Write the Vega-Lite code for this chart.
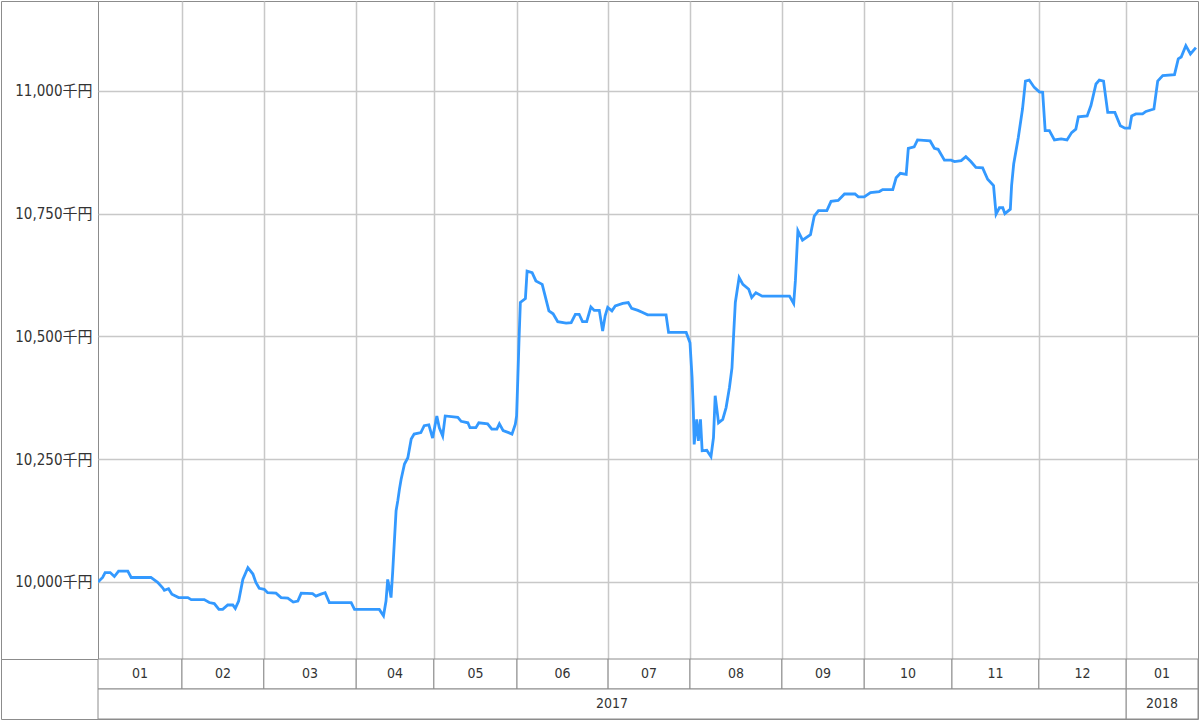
{
  "$schema": "https://vega.github.io/schema/vega-lite/v6.json",
  "padding": 0,
  "background": "white",
  "bounds": "flush",
  "spacing": 0,
  "columns": 2,
  "config": {
    "view": {"stroke": "#8c8c8c", "strokeWidth": 1},
    "concat": {"spacing": 0},
    "font": "Liberation Sans Narrow, DejaVu Sans Condensed, Noto Sans CJK JP, sans-serif"
  },
  "datasets": {
    "nav": [
      {"day": 0, "value": 10000}, {"day": 1.1, "value": 10009}, {"day": 1.7, "value": 10019}, {"day": 2.9, "value": 10019},
      {"day": 3.9, "value": 10011}, {"day": 4.9, "value": 10022}, {"day": 7.1, "value": 10022}, {"day": 7.9, "value": 10009},
      {"day": 12.6, "value": 10009}, {"day": 14.2, "value": 9999}, {"day": 15.4, "value": 9988}, {"day": 15.8, "value": 9983},
      {"day": 16.8, "value": 9986}, {"day": 17.6, "value": 9975}, {"day": 19.2, "value": 9968}, {"day": 21.4, "value": 9968},
      {"day": 22.2, "value": 9964}, {"day": 25.3, "value": 9964}, {"day": 26.5, "value": 9958}, {"day": 27.7, "value": 9956},
      {"day": 28.8, "value": 9944}, {"day": 29.7, "value": 9944}, {"day": 30.9, "value": 9953}, {"day": 32.1, "value": 9953},
      {"day": 32.7, "value": 9946}, {"day": 33.5, "value": 9961}, {"day": 34.5, "value": 10005}, {"day": 35.7, "value": 10029},
      {"day": 36.9, "value": 10016}, {"day": 37.6, "value": 9999}, {"day": 38.4, "value": 9987}, {"day": 39.6, "value": 9985},
      {"day": 40.4, "value": 9978}, {"day": 42.4, "value": 9977}, {"day": 43.6, "value": 9968}, {"day": 45.2, "value": 9967},
      {"day": 46.5, "value": 9959}, {"day": 47.6, "value": 9961}, {"day": 48.4, "value": 9977}, {"day": 51.1, "value": 9976},
      {"day": 51.9, "value": 9971}, {"day": 53.1, "value": 9975}, {"day": 54.1, "value": 9978}, {"day": 55.1, "value": 9958},
      {"day": 60.3, "value": 9958}, {"day": 61.1, "value": 9944}, {"day": 67.0, "value": 9944}, {"day": 68.0, "value": 9931},
      {"day": 68.6, "value": 9961}, {"day": 69.0, "value": 10005}, {"day": 69.4, "value": 9988}, {"day": 69.8, "value": 9968},
      {"day": 70.2, "value": 10022}, {"day": 70.6, "value": 10084}, {"day": 71.0, "value": 10145}, {"day": 71.4, "value": 10165},
      {"day": 71.8, "value": 10189}, {"day": 72.2, "value": 10209}, {"day": 73.0, "value": 10240}, {"day": 73.8, "value": 10253},
      {"day": 74.6, "value": 10291}, {"day": 75.3, "value": 10301}, {"day": 76.9, "value": 10304}, {"day": 77.7, "value": 10318},
      {"day": 78.8, "value": 10320}, {"day": 79.7, "value": 10293}, {"day": 80.7, "value": 10338}, {"day": 81.3, "value": 10314},
      {"day": 82.1, "value": 10297}, {"day": 82.7, "value": 10338}, {"day": 85.7, "value": 10335}, {"day": 86.5, "value": 10327},
      {"day": 88.1, "value": 10324}, {"day": 88.6, "value": 10314}, {"day": 90.0, "value": 10314}, {"day": 90.7, "value": 10324},
      {"day": 92.8, "value": 10322}, {"day": 93.8, "value": 10311}, {"day": 95.0, "value": 10311}, {"day": 95.6, "value": 10322},
      {"day": 96.5, "value": 10308}, {"day": 97.8, "value": 10304}, {"day": 98.6, "value": 10301}, {"day": 99.4, "value": 10321},
      {"day": 99.7, "value": 10338}, {"day": 100.0, "value": 10416}, {"day": 100.3, "value": 10498}, {"day": 100.6, "value": 10569},
      {"day": 101.8, "value": 10577}, {"day": 102.2, "value": 10633}, {"day": 103.4, "value": 10630}, {"day": 104.3, "value": 10613},
      {"day": 105.8, "value": 10606}, {"day": 106.3, "value": 10589}, {"day": 107.4, "value": 10552}, {"day": 108.4, "value": 10546},
      {"day": 109.5, "value": 10530}, {"day": 111.5, "value": 10527}, {"day": 112.7, "value": 10528}, {"day": 113.7, "value": 10545},
      {"day": 114.6, "value": 10545}, {"day": 115.4, "value": 10530}, {"day": 116.4, "value": 10530}, {"day": 117.4, "value": 10560},
      {"day": 118.2, "value": 10553}, {"day": 119.4, "value": 10553}, {"day": 120.2, "value": 10511}, {"day": 120.8, "value": 10542},
      {"day": 121.4, "value": 10559}, {"day": 122.4, "value": 10552}, {"day": 123.2, "value": 10562}, {"day": 125.0, "value": 10567},
      {"day": 126.3, "value": 10569}, {"day": 127.1, "value": 10557}, {"day": 128.6, "value": 10553}, {"day": 129.6, "value": 10549},
      {"day": 130.9, "value": 10544}, {"day": 135.3, "value": 10544}, {"day": 135.9, "value": 10508}, {"day": 140.1, "value": 10508},
      {"day": 141.0, "value": 10487}, {"day": 141.5, "value": 10416}, {"day": 141.8, "value": 10348}, {"day": 142.0, "value": 10280},
      {"day": 142.6, "value": 10331}, {"day": 143.0, "value": 10287}, {"day": 143.5, "value": 10331}, {"day": 143.9, "value": 10267},
      {"day": 145.0, "value": 10268}, {"day": 146.0, "value": 10255}, {"day": 146.6, "value": 10294}, {"day": 147.0, "value": 10379},
      {"day": 147.4, "value": 10352}, {"day": 147.8, "value": 10324}, {"day": 148.8, "value": 10331}, {"day": 149.6, "value": 10355},
      {"day": 150.4, "value": 10396}, {"day": 151.0, "value": 10436}, {"day": 151.4, "value": 10504}, {"day": 151.8, "value": 10569},
      {"day": 152.7, "value": 10620}, {"day": 153.6, "value": 10606}, {"day": 155.0, "value": 10596}, {"day": 155.7, "value": 10579},
      {"day": 156.7, "value": 10589}, {"day": 158.2, "value": 10582}, {"day": 164.7, "value": 10582}, {"day": 165.7, "value": 10567},
      {"day": 166.1, "value": 10613}, {"day": 166.4, "value": 10664}, {"day": 166.7, "value": 10715}, {"day": 167.8, "value": 10696},
      {"day": 169.7, "value": 10707}, {"day": 170.6, "value": 10745}, {"day": 171.6, "value": 10756}, {"day": 173.6, "value": 10756},
      {"day": 174.6, "value": 10775}, {"day": 176.3, "value": 10777}, {"day": 177.8, "value": 10790}, {"day": 180.3, "value": 10790},
      {"day": 181.1, "value": 10784}, {"day": 182.5, "value": 10784}, {"day": 184.0, "value": 10793}, {"day": 186.1, "value": 10795},
      {"day": 186.9, "value": 10799}, {"day": 189.3, "value": 10799}, {"day": 190.1, "value": 10823}, {"day": 191.1, "value": 10832},
      {"day": 192.5, "value": 10830}, {"day": 193.0, "value": 10883}, {"day": 194.4, "value": 10886}, {"day": 195.2, "value": 10900},
      {"day": 198.2, "value": 10898}, {"day": 199.2, "value": 10883}, {"day": 200.1, "value": 10881}, {"day": 201.6, "value": 10859},
      {"day": 203.2, "value": 10859}, {"day": 204.0, "value": 10856}, {"day": 205.6, "value": 10858}, {"day": 206.7, "value": 10866},
      {"day": 207.9, "value": 10856}, {"day": 209.1, "value": 10844}, {"day": 210.7, "value": 10843}, {"day": 211.9, "value": 10820},
      {"day": 213.3, "value": 10807}, {"day": 213.9, "value": 10749}, {"day": 214.7, "value": 10762}, {"day": 215.5, "value": 10762},
      {"day": 216.0, "value": 10750}, {"day": 217.3, "value": 10759}, {"day": 217.6, "value": 10807}, {"day": 218.1, "value": 10851},
      {"day": 219.2, "value": 10905}, {"day": 220.2, "value": 10963}, {"day": 220.9, "value": 11020}, {"day": 221.8, "value": 11022},
      {"day": 223.0, "value": 11007}, {"day": 224.2, "value": 10998}, {"day": 225.0, "value": 10997}, {"day": 225.6, "value": 10919},
      {"day": 226.6, "value": 10919}, {"day": 227.8, "value": 10900}, {"day": 229.4, "value": 10902}, {"day": 230.8, "value": 10900},
      {"day": 231.9, "value": 10915}, {"day": 232.9, "value": 10922}, {"day": 233.5, "value": 10947}, {"day": 235.6, "value": 10949},
      {"day": 236.5, "value": 10970}, {"day": 237.7, "value": 11014}, {"day": 238.5, "value": 11022}, {"day": 239.5, "value": 11020},
      {"day": 240.5, "value": 10956}, {"day": 242.2, "value": 10956}, {"day": 243.5, "value": 10929}, {"day": 244.6, "value": 10924},
      {"day": 245.7, "value": 10924}, {"day": 246.2, "value": 10949}, {"day": 247.2, "value": 10953}, {"day": 248.8, "value": 10953},
      {"day": 249.6, "value": 10958}, {"day": 251.5, "value": 10963}, {"day": 252.4, "value": 11020}, {"day": 253.6, "value": 11031},
      {"day": 256.4, "value": 11033}, {"day": 257.3, "value": 11065}, {"day": 258.0, "value": 11069}, {"day": 259.1, "value": 11092},
      {"day": 260.2, "value": 11075}, {"day": 261.5, "value": 11088}
    ],
    "periods": [
      {"level": "month", "label": "01", "start": 0, "end": 20},
      {"level": "month", "label": "02", "start": 20, "end": 39.5},
      {"level": "month", "label": "03", "start": 39.5, "end": 61.5},
      {"level": "month", "label": "04", "start": 61.5, "end": 80},
      {"level": "month", "label": "05", "start": 80, "end": 99.8},
      {"level": "month", "label": "06", "start": 99.8, "end": 121.5},
      {"level": "month", "label": "07", "start": 121.5, "end": 141},
      {"level": "month", "label": "08", "start": 141, "end": 162.9},
      {"level": "month", "label": "09", "start": 162.9, "end": 182.5},
      {"level": "month", "label": "10", "start": 182.5, "end": 203.4},
      {"level": "month", "label": "11", "start": 203.4, "end": 224.1},
      {"level": "month", "label": "12", "start": 224.1, "end": 244.9},
      {"level": "month", "label": "01", "start": 244.9, "end": 262},
      {"level": "year", "label": "2017", "start": 0, "end": 244.9},
      {"level": "year", "label": "2018", "start": 244.9, "end": 262}
    ]
  },
  "concat": [
    {
      "width": 97, "height": 658,
      "data": {"values": [{}]},
      "mark": {"type": "point", "opacity": 0},
      "view": {"stroke": "#8c8c8c"}
    },
    {
      "width": 1100, "height": 658,
      "data": {"name": "nav"},
      "view": {"stroke": "#8c8c8c"},
      "mark": {"type": "line", "color": "#3399ff", "strokeWidth": 2.8, "clip": true},
      "encoding": {
        "x": {
          "field": "day", "type": "quantitative",
          "scale": {"domain": [0, 262], "nice": false, "zero": false},
          "axis": {
            "title": null, "values": [20, 39.5, 61.5, 80, 99.8, 121.5, 141, 162.9, 182.5, 203.4, 224.1, 244.9],
            "labels": false, "ticks": false, "domain": false,
            "grid": true, "gridColor": "#c8c8c8", "gridWidth": 1.5, "gridOpacity": 1
          }
        },
        "y": {
          "field": "value", "type": "quantitative",
          "scale": {"domain": [9843, 11183], "nice": false, "zero": false},
          "axis": {
            "title": null, "values": [10000, 10250, 10500, 10750, 11000],
            "format": ",.0f", "labelExpr": "datum.label + '千円'",
            "ticks": false, "domain": false, "labelPadding": 6,
            "labelFontSize": 15, "labelColor": "#333333",
            "labelFont": "Liberation Sans Narrow, DejaVu Sans Condensed, Noto Sans CJK JP, sans-serif",
            "grid": true, "gridColor": "#c8c8c8", "gridWidth": 1.5, "gridOpacity": 1
          }
        }
      }
    },
    {
      "width": 97, "height": 60,
      "data": {"values": [{}]},
      "mark": {"type": "point", "opacity": 0},
      "view": {"stroke": "#8c8c8c"}
    },
    {
      "width": 1100, "height": 60,
      "data": {"name": "periods"},
      "view": {"stroke": "#8c8c8c"},
      "transform": [{"calculate": "(datum.start + datum.end) / 2", "as": "mid"}],
      "encoding": {
        "y": {
          "field": "level", "type": "nominal",
          "scale": {"domain": ["month", "year"], "paddingInner": 0, "paddingOuter": 0},
          "axis": null
        }
      },
      "layer": [
        {
          "mark": {"type": "rect", "fill": "white", "stroke": "#8c8c8c", "strokeWidth": 1},
          "encoding": {
            "x": {"field": "start", "type": "quantitative", "scale": {"domain": [0, 262], "nice": false, "zero": false}, "axis": null},
            "x2": {"field": "end"}
          }
        },
        {
          "mark": {"type": "text", "fontSize": 14, "color": "#333333", "baseline": "middle", "align": "center"},
          "encoding": {
            "x": {"field": "mid", "type": "quantitative", "scale": {"domain": [0, 262], "nice": false, "zero": false}, "axis": null},
            "text": {"field": "label"}
          }
        }
      ]
    }
  ]
}
